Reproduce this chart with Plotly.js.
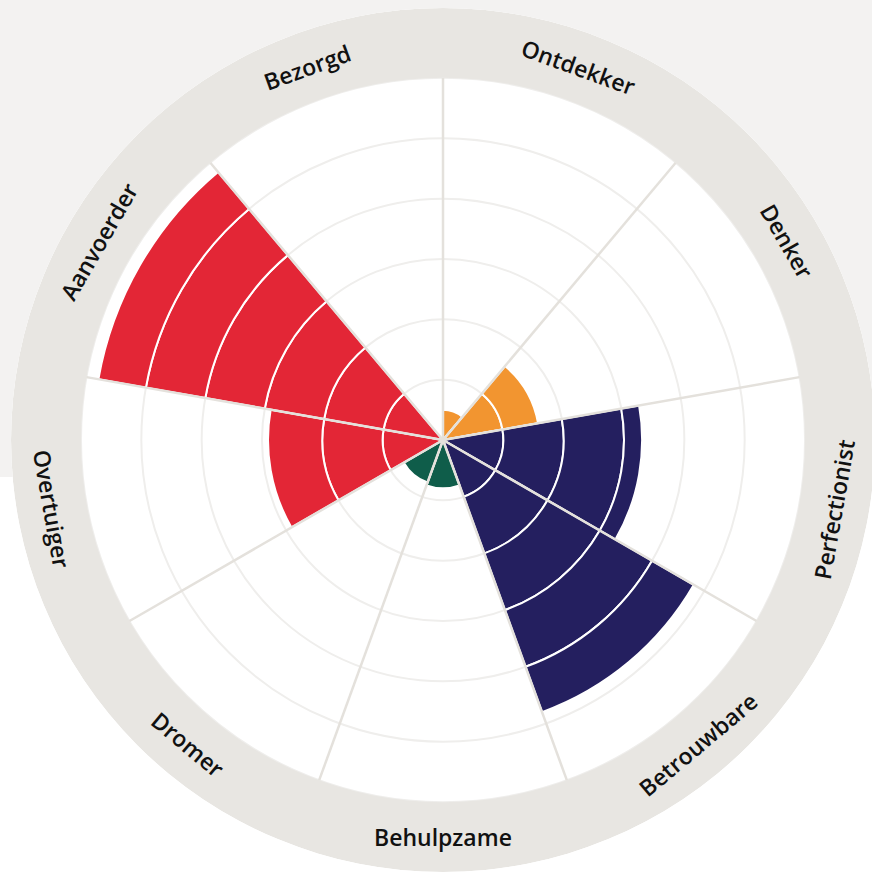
<!DOCTYPE html>
<html>
<head>
<meta charset="utf-8">
<script src="https://cdn.plot.ly/plotly-3.0.1.min.js"></script>
<style>
html,body{margin:0;padding:0;overflow:hidden;background:#ffffff;}
#chart{width:880px;height:880px;}
</style>
</head>
<body>
<div id="chart"></div>
<script>
// ---- data ----
const categories = ['Ontdekker','Denker','Perfectionist','Betrouwbare','Behulpzame','Dromer','Overtuiger','Aanvoerder','Bezorgd'];
const scores = [0.5, 1.6, 3.3, 4.8, 0.8, 0.75, 2.9, 5.8, 0];
const gridLevels = [1, 2, 3, 4, 5, 6];

// ---- styles ----
const barColors = ['#f29530','#f29530','#241f5f','#241f5f','#0f5d4a','#0f5d4a','#e32636','#e32636','#e32636'];
const ringColor = '#e8e6e2';
const pageGray = '#f3f2f1';
const boundaryColor = '#e4e1dc';

const W = 880, H = 880;
const M = {l: 11, r: 5, t: 8, b: 8};
const maxLevel = gridLevels[gridLevels.length - 1];
const outerR = 7.16;          // radial range max (ring outer edge)
const step = 360 / categories.length;
const firstCenter = 70;
const norm = a => { let x = ((a % 360) + 360) % 360; return x > 180 ? x - 360 : x; };
const thetas = categories.map((c, i) => norm(firstCenter - step * i));

const traces = [];

// grey outer ring
traces.push({
  type: 'barpolar', r: [outerR - maxLevel], base: maxLevel, theta: [0], width: [360],
  marker: {color: ringColor, line: {width: 0}}, hoverinfo: 'skip', showlegend: false
});

// stacked unit segments
for (let k = 0; k < maxLevel; k++) {
  traces.push({
    type: 'barpolar',
    theta: thetas,
    r: scores.map(v => Math.max(0, Math.min(1, v - k))),
    base: k,
    width: categories.map(() => step),
    marker: {color: barColors, line: {color: '#ffffff', width: 2}},
    hoverinfo: 'skip', showlegend: false
  });
}

// sector boundary lines drawn on top
const br = [], bt = [];
thetas.forEach(t => { br.push(0, maxLevel, null); bt.push(t + step / 2, t + step / 2, null); });
traces.push({
  type: 'scatterpolar', mode: 'lines', r: br, theta: bt,
  line: {color: boundaryColor, width: 2.5}, hoverinfo: 'skip', showlegend: false
});

// labels on the ring
const plotW = W - M.l - M.r, plotH = H - M.t - M.b;
const pxPerUnit = (plotW / 2) / outerR;
const labelR = (maxLevel + outerR) / 2 * pxPerUnit;
const annotations = categories.map((c, i) => {
  const t = thetas[i];
  const rad = t * Math.PI / 180;
  const dx = labelR * Math.cos(rad), dy = labelR * Math.sin(rad);
  const ang = (t > 0 && t < 180) ? 90 - t : -90 - t;
  return {
    text: c, xref: 'paper', yref: 'paper',
    x: 0.5 + dx / plotW, y: 0.5 + dy / plotH,
    xanchor: 'center', yanchor: 'middle', showarrow: false,
    textangle: ang,
    font: {family: 'Open Sans, sans-serif', size: 23, color: '#111111', weight: 600}
  };
});

const layout = {
  width: W, height: H,
  margin: M,
  paper_bgcolor: '#ffffff',
  showlegend: false,
  shapes: [{
    type: 'rect', xref: 'paper', yref: 'paper', layer: 'below',
    x0: -0.1, x1: 1.1, y0: 1 - (477 - M.t) / plotH, y1: 1.1,
    fillcolor: pageGray, line: {width: 0}
  }],
  polar: {
    domain: {x: [0, 1], y: [0, 1]},
    bgcolor: '#ffffff',
    barmode: 'overlay',
    bargap: 0,
    radialaxis: {
      range: [0, outerR], tickmode: 'array', tickvals: gridLevels,
      showticklabels: false, ticks: '', showline: false,
      gridcolor: '#efeeec', gridwidth: 2
    },
    angularaxis: {
      type: 'linear', thetaunit: 'degrees', rotation: 0, direction: 'counterclockwise',
      showgrid: false, showticklabels: false, ticks: '', showline: false
    }
  },
  annotations: annotations
};

Plotly.newPlot('chart', traces, layout, {displayModeBar: false, staticPlot: true});
</script>
</body>
</html>
